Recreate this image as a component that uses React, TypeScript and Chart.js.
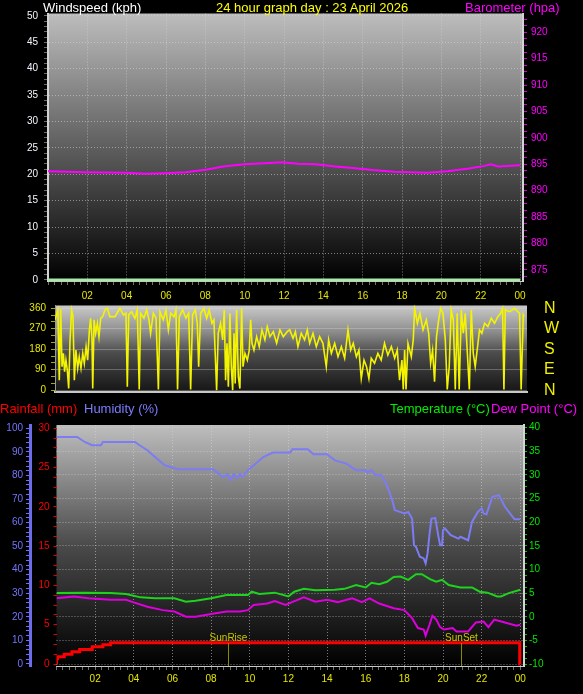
import { useEffect, useRef } from "react";
import { Chart, registerables } from "chart.js";

Chart.register(...registerables);

const FONT = "'Liberation Sans', Arial, sans-serif";

// shared x axis (hours of the day)
const hourTicks = [2, 4, 6, 8, 10, 12, 14, 16, 18, 20, 22, 24];
const hourTickLabels = ["02", "04", "06", "08", "10", "12", "14", "16", "18", "20", "22", "00"];

// top panel: windspeed + barometer
const windTicks = [0, 5, 10, 15, 20, 25, 30, 35, 40, 45, 50];
const baroTicks = [875, 880, 885, 890, 895, 900, 905, 910, 915, 920];
const windHours = [0, 24];
const windSpeed = [0, 0];
const baroHours = [0, 1.9, 4.0, 4.9, 5.9, 7.0, 8.1, 8.9, 10.0, 11.0, 11.9, 12.7, 13.6, 14.6, 15.5, 16.5, 17.6, 19.3, 20.3, 21.4, 22.2, 22.5, 22.9, 24.0];
const baroValues = [893.7, 893.5, 893.4, 893.2, 893.3, 893.5, 894.0, 894.6, 895.0, 895.2, 895.4, 895.1, 895.0, 894.6, 894.3, 893.9, 893.6, 893.4, 893.7, 894.2, 894.7, 895.0, 894.6, 894.8];

// middle panel: wind direction
const dirTicks = [0, 90, 180, 270, 360];
const compassLabels = ["N", "E", "S", "W", "N"];
const dirHours = [
  0, 0.15, 0.22, 0.29, 0.36, 0.43, 0.49, 0.56, 0.63, 0.7, 0.77, 0.85, 0.92, 0.99, 1.07, 1.16, 1.24, 1.33, 1.42, 1.5,
  1.59, 1.67, 1.76, 1.82, 1.89, 1.93, 2.0, 2.08, 2.17, 2.25, 2.34, 2.44, 2.56, 2.68, 2.81, 3.07, 3.32, 3.5, 3.63, 3.7,
  3.77, 3.92, 4.09, 4.21, 4.31, 4.38, 4.55, 4.69, 4.81, 4.89, 5.03, 5.17, 5.29, 5.37, 5.54, 5.68, 5.8, 5.92, 6.09, 6.19,
  6.27, 6.36, 6.53, 6.7, 6.84, 6.94, 7.04, 7.18, 7.28, 7.35, 7.45, 7.62, 7.76, 7.89, 8.03, 8.13, 8.27, 8.35, 8.47, 8.58,
  8.66, 8.73, 8.8, 8.87, 8.95, 9.02, 9.09, 9.16, 9.22, 9.29, 9.38, 9.46, 9.55, 9.62, 9.72, 9.84, 9.94, 10.01, 10.08, 10.18,
  10.32, 10.45, 10.59, 10.74, 10.86, 11.0, 11.17, 11.34, 11.51, 11.68, 11.88, 12.01, 12.18, 12.3, 12.43, 12.6, 12.77, 12.91, 13.03, 13.2,
  13.37, 13.54, 13.71, 13.88, 14.0, 14.14, 14.31, 14.48, 14.65, 14.82, 14.99, 15.13, 15.26, 15.42, 15.55, 15.67, 15.81, 15.94, 16.06, 16.18,
  16.35, 16.52, 16.69, 16.86, 17.03, 17.21, 17.38, 17.51, 17.63, 17.75, 17.82, 17.89, 17.96, 18.06, 18.23, 18.33, 18.4, 18.54, 18.67, 18.83,
  19.0, 19.12, 19.22, 19.32, 19.42, 19.52, 19.63, 19.73, 19.85, 19.97, 20.07, 20.17, 20.27, 20.38, 20.48, 20.58, 20.68, 20.79, 20.89, 20.99,
  21.09, 21.2, 21.3, 21.4, 21.5, 21.6, 21.72, 21.84, 21.98, 22.15, 22.32, 22.49, 22.66, 22.8, 22.9, 22.97, 23.04, 23.26, 23.51, 23.77,
  23.85, 23.96, 24.0,
];
const dirValues = [
  309, 353, 44, 356, 103, 162, 81, 132, 88, 7, 221, 353, 323, 44, 176, 96, 147, 96, 162, 118,
  191, 132, 265, 316, 235, 7, 309, 250, 294, 235, 316, 323, 353, 360, 323, 323, 360, 331, 338, 15,
  331, 345, 316, 353, 3, 338, 316, 353, 309, 250, 338, 316, 3, 345, 309, 353, 265, 338, 323, 353,
  3, 323, 353, 316, 338, 3, 331, 353, 294, 103, 338, 360, 316, 353, 294, 309, 0, 250, 294, 221,
  353, 44, 206, 15, 338, 103, 0, 250, 29, 353, 59, 7, 360, 103, 162, 132, 176, 309, 206, 176,
  235, 191, 265, 221, 279, 235, 257, 206, 265, 235, 257, 265, 228, 257, 191, 250, 221, 265, 206, 250,
  191, 235, 206, 103, 221, 162, 206, 147, 191, 140, 265, 176, 206, 147, 176, 51, 132, 103, 51, 140,
  118, 162, 132, 206, 154, 191, 140, 176, 44, 132, 3, 176, 3, 206, 147, 221, 360, 294, 338, 265,
  309, 250, 118, 176, 37, 235, 309, 360, 338, 221, 3, 103, 353, 309, 3, 338, 3, 353, 250, 338,
  176, 3, 353, 162, 103, 176, 265, 250, 294, 279, 316, 294, 323, 338, 360, 3, 353, 345, 360, 338,
  3, 331, 323,
];

// bottom panel: rainfall, humidity, temperature, dew point
const humidityTicks = [0, 10, 20, 30, 40, 50, 60, 70, 80, 90, 100];
const rainTicks = [0, 5, 10, 15, 20, 25, 30];
const tempTicks = [-10, -5, 0, 5, 10, 15, 20, 25, 30, 35, 40];
const humHours = [
  0, 1.07, 1.46, 1.84, 2.3, 2.4, 4.06, 4.3, 4.7, 5.1, 5.6, 6.3, 8.1, 8.6, 8.85, 9.0, 9.2, 9.35, 9.5, 9.64,
  9.9, 10.3, 10.7, 11.2, 12.1, 12.2, 13.0, 13.3, 14.0, 14.4, 15.0, 15.5, 16.0, 16.1, 16.3, 16.5, 16.8, 17.05, 17.35, 17.5,
  18.0, 18.2, 18.4, 18.5, 18.6, 18.8, 19.0, 19.1, 19.2, 19.3, 19.4, 19.6, 19.75, 19.85, 19.95, 20.0, 20.1, 20.4, 20.8, 20.9,
  21.3, 21.5, 21.8, 22.0, 22.1, 22.25, 22.55, 22.9, 23.2, 23.7, 24.0,
];
const humValues = [
  96.3, 96.3, 94.2, 92.8, 92.8, 94.2, 94.2, 92.8, 90.7, 87.8, 84.3, 82.6, 82.6, 79.4, 80.5, 78.0, 80.5, 79.0, 80.5, 79.4,
  82.2, 85.0, 87.8, 89.7, 89.7, 91.1, 91.1, 89.0, 89.0, 86.4, 85.0, 82.2, 82.2, 81.2, 82.3, 80.1, 80.1, 76.6, 70.2, 65.3,
  63.9, 64.5, 61.7, 50.4, 49.7, 45.5, 44.8, 42.7, 46.9, 55.0, 61.7, 61.9, 54.7, 50.4, 50.4, 56.8, 57.5, 54.7, 53.2, 54.0,
  52.5, 60.3, 64.5, 66.0, 63.9, 63.5, 70.9, 71.6, 66.7, 61.4, 61.4,
];
const tempHours = [0, 1.46, 2.8, 3.6, 4.35, 5.1, 6.1, 6.7, 7.2, 8.0, 8.8, 9.9, 10.1, 10.5, 11.3, 12.0, 12.3, 12.8, 13.4, 14.4, 14.9, 15.5, 16.0, 16.3, 16.7, 17.1, 17.45, 17.8, 18.2, 18.6, 18.9, 19.35, 19.65, 19.95, 20.3, 20.9, 21.5, 21.9, 22.3, 22.8, 23.0, 23.4, 24.0];
const tempValues = [5.0, 5.1, 5.0, 4.8, 4.1, 3.9, 3.9, 3.2, 3.4, 3.9, 4.6, 4.6, 5.3, 4.8, 5.1, 4.3, 5.3, 5.9, 5.6, 5.7, 5.9, 6.7, 6.2, 7.2, 6.9, 7.4, 8.4, 8.5, 7.8, 9.0, 9.0, 7.9, 7.4, 7.8, 6.7, 6.2, 6.2, 5.3, 5.1, 4.3, 4.3, 5.0, 5.7];
const dewHours = [0, 0.9, 1.65, 2.8, 3.6, 3.95, 4.7, 5.5, 6.1, 6.7, 7.2, 8.0, 8.8, 9.5, 9.9, 10.2, 10.9, 11.3, 11.85, 12.25, 12.8, 13.4, 14.0, 14.55, 15.3, 15.8, 16.2, 16.7, 17.45, 18.0, 18.4, 18.7, 19.0, 19.1, 19.3, 19.45, 19.65, 19.85, 20.05, 20.5, 20.7, 21.3, 21.7, 22.1, 22.35, 22.65, 23.2, 23.8, 24.0];
const dewValues = [3.9, 4.3, 3.9, 3.6, 3.6, 3.1, 2.1, 1.4, 1.1, 0.0, 0.0, 0.6, 1.1, 1.1, 1.4, 2.5, 2.8, 3.3, 2.5, 3.2, 4.1, 3.2, 3.6, 3.1, 3.9, 3.1, 3.9, 2.8, 1.8, 1.4, -0.3, -2.4, -2.7, -4.0, -1.7, 0.2, -0.6, -2.2, -2.7, -2.4, -3.1, -3.1, -1.2, -1.0, -2.2, -0.6, -1.2, -1.9, -1.7];
const rainHours = [0, 0.05, 0.4, 0.8, 1.2, 1.85, 2.4, 2.8, 3.45, 23.97, 24.0];
const rainValues = [0, 0.7, 0.93, 1.23, 1.57, 1.86, 2.2, 2.45, 2.7, 2.7, 0];
const sunLabels = ["SunRise", "SunSet"];
const sunHours = [8.87, 20.95];

const pts = (xs: number[], ys: number[]) => xs.map((x, i) => ({ x, y: ys[i] }));

// tick positions (including unlabeled minor ticks)
const steps = (from: number, to: number, step: number) => {
  const out: number[] = [];
  const n = Math.round((to - from) / step);
  for (let i = 0; i <= n; i++) out.push(Math.round((from + i * step) * 10000) / 10000);
  return out;
};

const setTicks = (values: number[]) => (scale: any) => {
  scale.ticks = values.map((value) => ({ value }));
};
const fixWidth = (w: number) => (scale: any) => {
  scale.width = w;
};
const fixHeight = (h: number) => (scale: any) => {
  scale.height = h;
};
const majorOnly = (majors: number[], color: string) => (ctx: any) =>
  majors.includes(ctx.tick?.value) ? color : "rgba(0,0,0,0)";

const GRID = "rgba(215,215,215,0.55)";

const panelBackground = (stops: [number, string][]) => ({
  id: "panelBackground",
  beforeDraw(chart: any) {
    const { ctx, chartArea: a } = chart;
    const g = ctx.createLinearGradient(0, a.top, 0, a.bottom);
    stops.forEach(([o, c]) => g.addColorStop(o, c));
    ctx.save();
    ctx.fillStyle = g;
    ctx.fillRect(a.left, a.top, a.right - a.left, a.bottom - a.top);
    ctx.restore();
  },
});

const sunMarkers = {
  id: "sunMarkers",
  afterDatasetsDraw(chart: any) {
    const { ctx, chartArea: a, scales } = chart;
    ctx.save();
    sunLabels.forEach((label, i) => {
      const x = Math.round(scales.x.getPixelForValue(sunHours[i])) + 0.5;
      ctx.strokeStyle = "#8a8a00";
      ctx.lineWidth = 1;
      ctx.beginPath();
      ctx.moveTo(x, a.bottom - 23);
      ctx.lineTo(x, a.bottom);
      ctx.stroke();
      ctx.fillStyle = "#c8c800";
      ctx.font = `10px ${FONT}`;
      ctx.textAlign = "center";
      ctx.textBaseline = "middle";
      ctx.fillText(label, x, a.bottom - 28);
    });
    ctx.restore();
  },
};

const hourAxis = (max: number, height: number, pad: number) => ({
  type: "linear" as const,
  position: "bottom" as const,
  min: 0,
  max,
  afterBuildTicks: setTicks(steps(0, 24, 1 / 3)),
  afterFit: fixHeight(height),
  ticks: {
    autoSkip: false,
    maxRotation: 0,
    color: "#e6e600",
    font: { size: 10, family: FONT },
    padding: pad,
    callback: (v: any) => {
      const i = hourTicks.indexOf(Number(v));
      return i >= 0 ? hourTickLabels[i] : "";
    },
  },
  grid: {
    color: majorOnly(hourTicks, GRID),
    tickColor: "#707070",
    tickLength: 4,
    tickBorderDash: [],
  },
  border: { color: "#c8c8c8", width: 1, dash: [1, 2] },
});

const baseOptions = {
  responsive: false,
  animation: false as const,
  events: [],
  plugins: { legend: { display: false }, tooltip: { enabled: false } },
  elements: { point: { radius: 0 }, line: { tension: 0 } },
};

function TopPanel() {
  const ref = useRef<HTMLCanvasElement | null>(null);
  useEffect(() => {
    if (!ref.current) return;
    const chart = new Chart(ref.current, {
      type: "line",
      data: {
        datasets: [
          { label: "Windspeed", data: pts(windHours, windSpeed), yAxisID: "wind", borderColor: "#a4eea4", borderWidth: 3 },
          { label: "Barometer", data: pts(baroHours, baroValues), yAxisID: "baro", borderColor: "#ff00ff", borderWidth: 2 },
        ],
      },
      options: {
        ...baseOptions,
        layout: { padding: { top: 13.5, left: 0, right: 0, bottom: 0 } },
        scales: {
          x: hourAxis(24.15, 19, 5),
          wind: {
            type: "linear",
            position: "left",
            min: -0.2,
            max: 50.45,
            afterBuildTicks: setTicks(steps(0, 50, 1)),
            afterFit: fixWidth(48),
            ticks: {
              autoSkip: false,
              color: "#f4f4ff",
              font: { size: 10, family: FONT },
              padding: 6,
              callback: (v: any) => (windTicks.includes(Number(v)) ? String(v) : ""),
            },
            grid: { color: majorOnly(windTicks, GRID), tickColor: "#6a6a6a", tickLength: 4, tickBorderDash: [] },
            border: { color: "#d4d4d4", width: 2, dash: [1, 2] },
          },
          baro: {
            type: "linear",
            position: "right",
            min: 872.9,
            max: 923.55,
            afterBuildTicks: setTicks(steps(873.75, 922.5, 1.25)),
            afterFit: fixWidth(60),
            ticks: {
              autoSkip: false,
              color: "#ff00ff",
              font: { size: 10, family: FONT },
              padding: 4,
              callback: (v: any) => (baroTicks.includes(Number(v)) ? String(v) : ""),
            },
            grid: { drawOnChartArea: false, tickColor: "#d000d0", tickLength: 4, tickBorderDash: [] },
            border: { color: "#d4d4d4", width: 2 },
          },
        },
      },
      plugins: [panelBackground([[0, "#bdbdbd"], [1, "#000000"]])],
    } as any);
    return () => chart.destroy();
  }, []);
  return <canvas ref={ref} width={583} height={300} style={{ position: "absolute", left: 0, top: 0, width: 583, height: 300 }} />;
}

// the middle canvas is taller than its panel (270..430) so the axis labels never squeeze the plot
const MID_TOP = 270;
const MID_HEIGHT = 160;

function MiddlePanel() {
  const ref = useRef<HTMLCanvasElement | null>(null);
  useEffect(() => {
    if (!ref.current) return;
    const chart = new Chart(ref.current, {
      type: "line",
      data: {
        datasets: [
          { label: "Wind direction", data: pts(dirHours, dirValues), yAxisID: "dir", borderColor: "#f4f400", borderWidth: 1.6 },
        ],
      },
      options: {
        ...baseOptions,
        layout: { padding: { top: 305.5 - MID_TOP, left: 0, right: 0, bottom: MID_TOP + MID_HEIGHT - 395 } },
        scales: {
          x: {
            type: "linear",
            position: "bottom",
            min: 0,
            max: 24.15,
            afterFit: fixHeight(3.5),
            ticks: { display: false },
            grid: { display: false },
            border: { color: "#c8c8c8", width: 2 },
          },
          dir: {
            type: "linear",
            position: "left",
            min: -6,
            max: 372,
            afterBuildTicks: setTicks(steps(0, 360, 30)),
            afterFit: fixWidth(55),
            ticks: {
              autoSkip: false,
              color: "#e8e800",
              font: { size: 10, family: FONT },
              padding: 5,
              callback: (v: any) => (dirTicks.includes(Number(v)) ? String(v) : ""),
            },
            grid: { color: majorOnly(dirTicks, "rgba(225,225,225,0.3)"), tickColor: "#a8a800", tickLength: 4 },
            border: { color: "#9a9a9a", width: 1 },
          },
          dirR: {
            type: "linear",
            position: "right",
            min: -6,
            max: 372,
            afterBuildTicks: setTicks(dirTicks),
            afterFit: fixWidth(56),
            ticks: {
              autoSkip: false,
              color: "#f0f000",
              font: { size: 16, family: FONT },
              padding: 17,
              callback: (v: any) => compassLabels[dirTicks.indexOf(Number(v))] ?? "",
            },
            grid: { drawOnChartArea: false, drawTicks: false },
            border: { display: false },
          },
        },
      },
      plugins: [panelBackground([[0, "#cacaca"], [0.3, "#8e8e8e"], [0.55, "#4c4c4c"], [1, "#161616"]])],
    } as any);
    return () => chart.destroy();
  }, []);
  return (
    <canvas
      ref={ref}
      width={583}
      height={MID_HEIGHT}
      style={{ position: "absolute", left: 0, top: MID_TOP, width: 583, height: MID_HEIGHT }}
    />
  );
}

function BottomPanel() {
  const ref = useRef<HTMLCanvasElement | null>(null);
  useEffect(() => {
    if (!ref.current) return;
    const chart = new Chart(ref.current, {
      type: "line",
      data: {
        datasets: [
          { label: "Humidity", data: pts(humHours, humValues), yAxisID: "hum", borderColor: "#7c7cf4", borderWidth: 2 },
          { label: "Temperature", data: pts(tempHours, tempValues), yAxisID: "temp", borderColor: "#1ed21e", borderWidth: 2 },
          { label: "Dew Point", data: pts(dewHours, dewValues), yAxisID: "temp", borderColor: "#dc00dc", borderWidth: 2 },
          { label: "Rainfall", data: pts(rainHours, rainValues), yAxisID: "rain", borderColor: "#ff0000", borderWidth: 3, stepped: "after" },
        ],
      },
      options: {
        ...baseOptions,
        layout: { padding: { top: 30, left: 0, right: 0, bottom: 0 } },
        scales: {
          x: hourAxis(24.19, 28, 3),
          hum: {
            type: "linear",
            position: "left",
            weight: 1,
            min: -0.85,
            max: 101.4,
            afterBuildTicks: setTicks(steps(0, 100, 2)),
            afterFit: fixWidth(30),
            ticks: {
              autoSkip: false,
              color: "#7474ff",
              font: { size: 10, family: FONT },
              padding: 3,
              callback: (v: any) => (humidityTicks.includes(Number(v)) ? String(v) : ""),
            },
            grid: { drawOnChartArea: false, tickColor: "#7070f0", tickLength: 4 },
            border: { color: "#6c6cec", width: 3 },
          },
          rain: {
            type: "linear",
            position: "left",
            weight: 0,
            min: -0.25,
            max: 30.42,
            afterBuildTicks: setTicks(steps(0, 30, 1.25)),
            afterFit: fixWidth(26.5),
            ticks: {
              autoSkip: false,
              color: "#ff0000",
              font: { size: 10, family: FONT },
              padding: 4,
              callback: (v: any) => (rainTicks.includes(Number(v)) ? String(v) : ""),
            },
            grid: { drawOnChartArea: false, tickColor: "#e00000", tickLength: 3 },
            border: { display: false },
          },
          temp: {
            type: "linear",
            position: "right",
            min: -10.42,
            max: 40.57,
            afterBuildTicks: setTicks(steps(-10, 40, 1.25)),
            afterFit: fixWidth(59),
            ticks: {
              autoSkip: false,
              color: "#00e600",
              font: { size: 10, family: FONT },
              padding: 2,
              callback: (v: any) => (tempTicks.includes(Number(v)) ? String(v) : ""),
            },
            grid: { color: majorOnly(tempTicks, GRID), tickColor: "#00c800", tickLength: 3, tickBorderDash: [] },
            border: { color: "#d4d4d4", width: 2, dash: [1, 2] },
          },
        },
      },
      plugins: [panelBackground([[0, "#bebebe"], [0.5, "#4a4a4a"], [1, "#000000"]]), sunMarkers],
    } as any);
    return () => chart.destroy();
  }, []);
  return <canvas ref={ref} width={583} height={299} style={{ position: "absolute", left: 0, top: 395, width: 583, height: 299 }} />;
}

const textStyle = (left: number, top: number, color: string) => ({
  position: "absolute" as const,
  left,
  top,
  color,
  font: `13px ${FONT}`,
  lineHeight: "16px",
  whiteSpace: "nowrap" as const,
  zIndex: 2,
});

export default function App() {
  useEffect(() => {
    document.body.style.margin = "0";
    document.body.style.background = "#000";
  }, []);
  return (
    <div style={{ position: "relative", width: 583, height: 694, background: "#000", overflow: "hidden" }}>
      <TopPanel />
      <BottomPanel />
      <MiddlePanel />
      <span style={textStyle(43, 0, "#ffffff")}>Windspeed (kph)</span>
      <span style={textStyle(216, 0, "#ffff00")}>24 hour graph day : 23 April 2026</span>
      <span style={textStyle(465, 0, "#ff00ff")}>Barometer (hpa)</span>
      <span style={textStyle(0, 401, "#ff0000")}>Rainfall (mm)</span>
      <span style={textStyle(84, 401, "#7c7cff")}>Humidity (%)</span>
      <span style={textStyle(390, 401, "#00ee00")}>Temperature (°C)</span>
      <span style={textStyle(491, 401, "#ff00ff")}>Dew Point (°C)</span>
    </div>
  );
}
